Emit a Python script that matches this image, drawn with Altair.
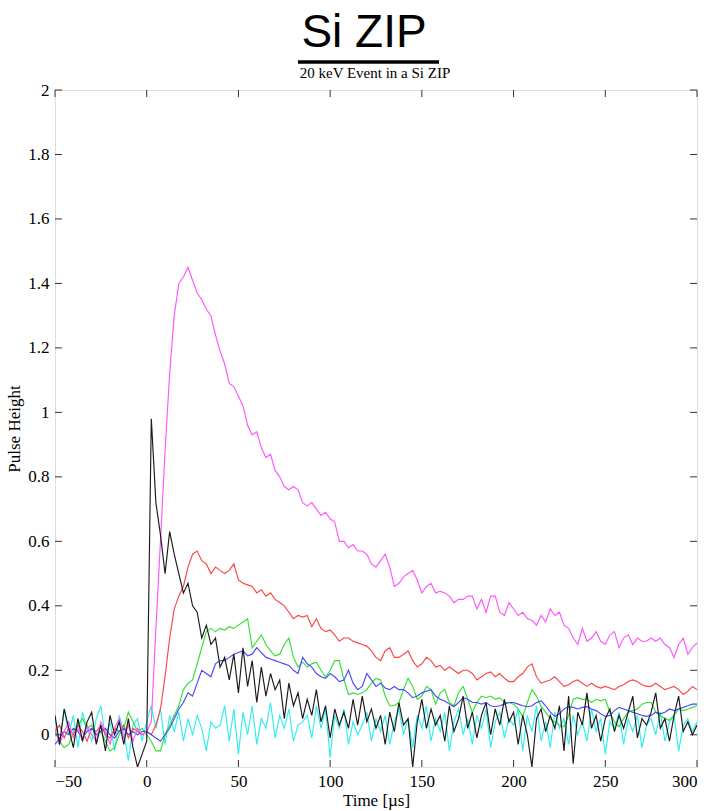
import altair as alt
import pandas as pd

# sample grid (µs)
times = [-50 + 2.5 * i for i in range(141)]

magenta = [
    0.02, -0.03, 0.01, 0.04, -0.01, 0.02, -0.02, 0.03, 0.00, -0.02,
    0.04, 0.01, -0.03, 0.02, 0.05, -0.01, 0.03, -0.02, 0.02, 0.00,
    0.01, 0.04, 0.33, 0.60, 0.88, 1.12, 1.30, 1.40, 1.42, 1.45,
    1.41, 1.37, 1.35, 1.32, 1.30, 1.24, 1.19, 1.15, 1.09, 1.08,
    1.05, 1.02, 0.96, 0.93, 0.94, 0.89, 0.86, 0.87, 0.82, 0.80,
    0.77, 0.76, 0.77, 0.76, 0.72, 0.71, 0.72, 0.70, 0.68, 0.69,
    0.67, 0.66, 0.60, 0.60, 0.58, 0.59, 0.57, 0.57, 0.56, 0.53,
    0.52, 0.54, 0.56, 0.52, 0.46, 0.47, 0.49, 0.50, 0.51, 0.48,
    0.44, 0.46, 0.47, 0.44, 0.445, 0.44, 0.43, 0.41, 0.42, 0.42,
    0.43, 0.43, 0.39, 0.42, 0.38, 0.43, 0.43, 0.38, 0.37, 0.41,
    0.39, 0.37, 0.38, 0.36, 0.355, 0.34, 0.37, 0.35, 0.39, 0.37,
    0.38, 0.34, 0.33, 0.30, 0.28, 0.33, 0.29, 0.30, 0.32, 0.29,
    0.28, 0.31, 0.32, 0.27, 0.30, 0.31, 0.28, 0.30, 0.29, 0.29,
    0.30, 0.29, 0.30, 0.28, 0.27, 0.24, 0.28, 0.30, 0.25, 0.27,
    0.285,
]

red = [
    0.01, 0.03, -0.01, 0.02, 0.00, 0.03, 0.01, -0.02, 0.02, 0.01,
    0.03, 0.00, -0.01, 0.02, 0.01, 0.03, -0.01, 0.02, 0.01, 0.00,
    0.01, 0.00, 0.03, 0.08, 0.18, 0.30, 0.39, 0.43, 0.46, 0.52,
    0.56, 0.57, 0.54, 0.53, 0.50, 0.52, 0.51, 0.50, 0.51, 0.53,
    0.48, 0.47, 0.465, 0.46, 0.44, 0.45, 0.43, 0.44, 0.42, 0.41,
    0.40, 0.38, 0.36, 0.37, 0.365, 0.37, 0.335, 0.36, 0.33, 0.32,
    0.325, 0.31, 0.29, 0.30, 0.30, 0.29, 0.285, 0.28, 0.275, 0.26,
    0.24, 0.23, 0.26, 0.27, 0.24, 0.24, 0.25, 0.26, 0.23, 0.21,
    0.22, 0.24, 0.23, 0.21, 0.215, 0.20, 0.21, 0.20, 0.19, 0.20,
    0.20, 0.19, 0.17, 0.18, 0.19, 0.195, 0.18, 0.19, 0.175, 0.165,
    0.165, 0.18, 0.19, 0.21, 0.22, 0.18, 0.16, 0.165, 0.17, 0.18,
    0.165, 0.15, 0.155, 0.165, 0.17, 0.16, 0.15, 0.16, 0.15, 0.145,
    0.15, 0.145, 0.14, 0.15, 0.155, 0.165, 0.17, 0.165, 0.155, 0.15,
    0.15, 0.16, 0.15, 0.14, 0.145, 0.15, 0.14, 0.125, 0.135, 0.15,
    0.14,
]

green = [
    0.01, -0.02, -0.04, -0.03, 0.01, 0.03, 0.05, 0.02, 0.03, 0.00,
    0.01, -0.02, -0.05, -0.04, 0.00, 0.02, 0.07, 0.04, 0.01, 0.02,
    0.00, -0.02, -0.05, -0.05, 0.00, 0.03, 0.06, 0.09, 0.14, 0.16,
    0.17, 0.22, 0.27, 0.32, 0.33, 0.32, 0.33, 0.325, 0.335, 0.33,
    0.34, 0.35, 0.36, 0.27, 0.29, 0.31, 0.28, 0.26, 0.245, 0.25,
    0.28, 0.30, 0.24, 0.21, 0.225, 0.21, 0.22, 0.225, 0.20, 0.18,
    0.20, 0.23, 0.23, 0.17, 0.125, 0.13, 0.125, 0.13, 0.14, 0.16,
    0.175, 0.17, 0.12, 0.09, 0.09, 0.10, 0.14, 0.175, 0.15, 0.11,
    0.12, 0.15, 0.14, 0.095, 0.13, 0.14, 0.10, 0.09, 0.13, 0.15,
    0.11, 0.07, 0.10, 0.12, 0.115, 0.12, 0.11, 0.115, 0.10, 0.10,
    0.095, 0.08, 0.057, 0.10, 0.14, 0.12, 0.087, 0.07, 0.05, 0.04,
    0.03, 0.025, 0.06, 0.11, 0.115, 0.11, 0.11, 0.10, 0.11, 0.105,
    0.11, 0.07, 0.04, 0.025, 0.05, 0.07, 0.075, 0.08, 0.095, 0.10,
    0.10, 0.07, 0.06, 0.05, 0.045, 0.06, 0.08, 0.075, 0.08, 0.085,
    0.09,
]

blue = [
    -0.03, -0.01, 0.01, 0.00, 0.02, 0.01, -0.01, 0.01, 0.02, 0.00,
    0.01, 0.02, 0.00, -0.01, 0.01, 0.02, 0.00, 0.01, 0.00, 0.01,
    0.01, 0.00, -0.01, -0.02, 0.00, 0.02, 0.05, 0.08, 0.10, 0.13,
    0.12, 0.16, 0.20, 0.19, 0.18, 0.22, 0.23, 0.23, 0.24, 0.25,
    0.255, 0.26, 0.245, 0.25, 0.27, 0.255, 0.24, 0.235, 0.23, 0.225,
    0.22, 0.215, 0.20, 0.19, 0.24, 0.22, 0.21, 0.19, 0.18, 0.175,
    0.19, 0.18, 0.165, 0.17, 0.20, 0.16, 0.14, 0.15, 0.19, 0.17,
    0.15, 0.16, 0.145, 0.14, 0.15, 0.14, 0.14, 0.13, 0.115, 0.12,
    0.13, 0.135, 0.14, 0.12, 0.11, 0.105, 0.095, 0.087, 0.10, 0.115,
    0.11, 0.10, 0.10, 0.095, 0.10, 0.09, 0.087, 0.09, 0.095, 0.10,
    0.10, 0.095, 0.09, 0.087, 0.09, 0.10, 0.105, 0.09, 0.07, 0.057,
    0.065, 0.08, 0.087, 0.085, 0.08, 0.085, 0.087, 0.08, 0.075, 0.065,
    0.057, 0.06, 0.075, 0.085, 0.08, 0.075, 0.07, 0.065, 0.06, 0.057,
    0.06, 0.07, 0.065, 0.07, 0.08, 0.075, 0.08, 0.085, 0.09, 0.095,
    0.095,
]

black = [
    0.06, -0.03, 0.08, 0.02, -0.04, 0.05, -0.02, 0.04, 0.07, -0.03,
    0.03, -0.05, 0.06, 0.00, 0.04, -0.03, 0.05, -0.04, -0.10, -0.06,
    -0.02, 0.98, 0.72, 0.62, 0.50, 0.63, 0.56, 0.50, 0.44, 0.47,
    0.40, 0.38, 0.30, 0.34, 0.28, 0.30, 0.21, 0.24, 0.17, 0.25,
    0.13, 0.27, 0.15, 0.23, 0.10, 0.21, 0.12, 0.19, 0.14, 0.17,
    0.05, 0.16, 0.09, 0.13, 0.05, 0.11, 0.06, 0.14, 0.04, 0.09,
    -0.01, 0.08, 0.03, 0.07, 0.02, 0.11, 0.03, 0.12, 0.04, 0.08,
    0.02, 0.06, -0.03, 0.07, 0.01, 0.10, 0.03, 0.05, -0.10, 0.04,
    0.11, 0.02, 0.08, 0.03, 0.06, -0.02, 0.09, 0.01, 0.05, 0.12,
    0.02, 0.07, -0.01, 0.06, 0.10, 0.00, 0.08, 0.03, 0.11, 0.04,
    0.07, -0.03, 0.06, 0.00, -0.10, 0.05, 0.08, 0.01, 0.06, 0.02,
    0.09, -0.05, 0.12, -0.09, 0.07, 0.03, 0.13, 0.02, 0.06, -0.02,
    0.05, 0.08, 0.01, 0.06, 0.02, 0.07, 0.12, -0.01, 0.05, 0.03,
    0.07, 0.13, 0.02, 0.05, -0.02, 0.06, 0.12, 0.01, 0.04, 0.00,
    0.03,
]

cyan = [
    0.05, -0.03, 0.08, 0.00, 0.06, -0.04, 0.07, 0.02, -0.02, 0.05,
    0.09, -0.01, 0.04, -0.05, 0.06, 0.01, -0.08, 0.03, 0.05, -0.02,
    0.04, 0.09, 0.02, 0.08, -0.03, 0.06, 0.01, 0.07, -0.02, 0.05,
    0.00, 0.06, 0.02, -0.05, 0.04, 0.02, 0.03, 0.09, -0.02, 0.08,
    -0.06, 0.07, 0.00, 0.09, -0.03, 0.05, 0.02, 0.10, -0.01, 0.06,
    0.02, 0.08, -0.02, 0.03, 0.04, 0.06, -0.01, 0.09, 0.02, 0.08,
    -0.07, 0.06, 0.02, 0.08, -0.03, 0.04, 0.00, 0.03, 0.07, -0.02,
    0.05, 0.01, 0.06, -0.03, 0.04, 0.08, 0.00, 0.05, -0.04, 0.06,
    0.02, 0.09, -0.02, 0.05, 0.01, 0.07, -0.05, 0.04, 0.08, 0.00,
    0.05, -0.03, 0.06, 0.02, 0.08, -0.04, 0.04, 0.07, -0.01, 0.05,
    0.03, 0.08, -0.05, 0.06, 0.01, 0.09, -0.02, 0.04, -0.04, 0.07,
    0.02, 0.05, -0.03, 0.06, 0.00, 0.04, -0.02, 0.08, 0.01, 0.05,
    -0.06, 0.04, 0.02, 0.07, -0.03, 0.05, 0.01, 0.06, -0.04, 0.03,
    0.05, 0.00, 0.07, -0.02, 0.04, 0.06, -0.05, 0.03, 0.05, 0.01,
    0.04,
]

x_ticks = [-50, 0, 50, 100, 150, 200, 250, 300]
y_ticks = [0, 0.2, 0.4, 0.6, 0.8, 1.0, 1.2, 1.4, 1.6, 1.8, 2.0]

main_title = "Si ZIP"
sub_title = "20 keV Event in a Si ZIP"

series = [
    ("cyan", cyan, "#30eeee"),
    ("red", red, "#ff4444"),
    ("green", green, "#33e033"),
    ("blue", blue, "#4848ff"),
    ("magenta", magenta, "#ff55ff"),
    ("black", black, "#1a1a1a"),
]

W, H = 642, 677
x_scale = alt.Scale(domain=[-50, 300], nice=False, zero=False)
y_scale = alt.Scale(domain=[-0.1, 2], nice=False, zero=False)

serif = "Liberation Serif"
x_axis = alt.Axis(values=x_ticks, title="Time [µs]", ticks=False, domain=False, grid=False,
                  labelFont=serif, labelFontSize=17, labelColor="black", labelPadding=6,
                  titleFont=serif, titleFontSize=17, titleFontWeight="normal",
                  titleColor="black", titlePadding=3)
y_axis = alt.Axis(values=y_ticks, format="~g", title="Pulse Height", ticks=False, domain=False,
                  grid=False, labelFont=serif, labelFontSize=17, labelColor="black",
                  labelPadding=6, titleFont=serif, titleFontSize=17, titleFontWeight="normal",
                  titleColor="black", titlePadding=4)

layers = []
for name, vals, col in series:
    df = pd.DataFrame({"t": times, "v": vals})
    layers.append(
        alt.Chart(df).mark_line(color=col, strokeWidth=1.15, clip=True).encode(
            x=alt.X("t:Q", scale=x_scale, axis=x_axis),
            y=alt.Y("v:Q", scale=y_scale, axis=y_axis),
        )
    )

ydf = pd.DataFrame({"v": y_ticks})
xdf = pd.DataFrame({"t": x_ticks})
tick_col = "#333333"
layers.append(alt.Chart(ydf).mark_rule(color=tick_col, strokeWidth=1).encode(
    y=alt.Y("v:Q", scale=y_scale, axis=y_axis), x=alt.value(0), x2=alt.value(7)))
layers.append(alt.Chart(ydf).mark_rule(color=tick_col, strokeWidth=1).encode(
    y=alt.Y("v:Q", scale=y_scale, axis=y_axis), x=alt.value(W - 7), x2=alt.value(W)))
layers.append(alt.Chart(xdf).mark_rule(color=tick_col, strokeWidth=1).encode(
    x=alt.X("t:Q", scale=x_scale, axis=x_axis), y=alt.value(H - 7), y2=alt.value(H)))
layers.append(alt.Chart(xdf).mark_rule(color=tick_col, strokeWidth=1).encode(
    x=alt.X("t:Q", scale=x_scale, axis=x_axis), y=alt.value(0), y2=alt.value(7)))

one = alt.Data(values=[{"u": 1}])
# big title, its underline, and the subtitle
layers.append(alt.Chart(one).mark_text(
    text=main_title, font="Liberation Sans", fontSize=46, color="black",
    align="center", baseline="alphabetic").encode(x=alt.value(309), y=alt.value(-43)))
layers.append(alt.Chart(one).mark_rule(color="black", strokeWidth=3.5).encode(
    x=alt.value(243), x2=alt.value(384), y=alt.value(-28)))
layers.append(alt.Chart(one).mark_text(
    text=sub_title, font=serif, fontSize=15, color="black",
    align="center", baseline="alphabetic").encode(x=alt.value(320), y=alt.value(-12)))

chart = alt.layer(*layers).properties(
    width=W,
    height=H,
    autosize=alt.AutoSizeParams(type="none"),
    padding={"left": 55, "top": 90, "right": 16, "bottom": 44},
).configure_view(stroke="#222222", strokeWidth=1.4).configure(background="white")

chart.save("out.html", embed_options={"renderer": "svg", "actions": False})
